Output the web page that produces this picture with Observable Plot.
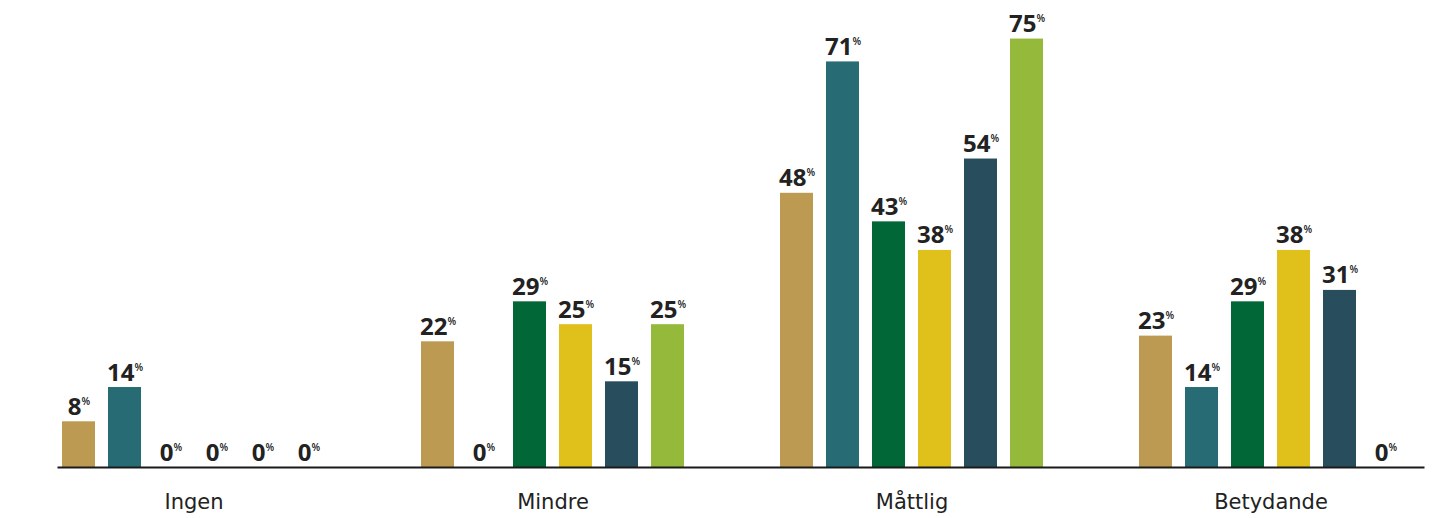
<!DOCTYPE html>
<html>
<head>
<meta charset="utf-8">
<script src="https://cdn.jsdelivr.net/npm/d3@7"></script>
<script src="https://cdn.jsdelivr.net/npm/@observablehq/plot@0.6"></script>
<style>
  html, body { margin: 0; padding: 0; background: #fff; }
  #chart svg { display: block; }
</style>
</head>
<body>
<div id="chart"></div>
<script>
const categories = ["Ingen", "Mindre", "Måttlig", "Betydande"];
const seriesNames = ["Serie 1", "Serie 2", "Serie 3", "Serie 4", "Serie 5", "Serie 6"];
const seriesColors = ["#bc9a52", "#276c74", "#026736", "#e0c01b", "#284e5e", "#95ba3b"];
const serie1 = [8, 22, 48, 23];
const serie2 = [14, 0, 71, 14];
const serie3 = [0, 29, 43, 29];
const serie4 = [0, 25, 38, 38];
const serie5 = [0, 15, 54, 31];
const serie6 = [0, 25, 75, 0];
const seriesValues = [serie1, serie2, serie3, serie4, serie5, serie6];

const data = [];
categories.forEach((cat, ci) => {
  seriesNames.forEach((s, si) => {
    data.push({cat, series: s, value: seriesValues[si][ci]});
  });
});

const chart = Plot.plot({
  width: 1435,
  height: 518,
  marginLeft: 47,
  marginRight: 17,
  marginTop: 10,
  marginBottom: 51,
  style: {fontFamily: "'Open Sans', sans-serif", color: "#222", background: "#fff"},
  fx: {domain: categories, paddingInner: 0.189, paddingOuter: 0, label: null},
  x: {domain: seriesNames, padding: 0.289, axis: null},
  y: {domain: [0, 80], axis: null},
  color: {domain: seriesNames, range: seriesColors},
  marks: [
    Plot.axisFx({anchor: "bottom", tickSize: 0, tickPadding: 27, fontSize: 21, fontFamily: "'DejaVu Sans', sans-serif", fill: "#222", label: null}),
    Plot.barY(data, {fx: "cat", x: "series", y: "value", fill: "series"}),
    Plot.text(data, {
      fx: "cat", x: "series", y: "value",
      text: d => d.value + "%",
      lineAnchor: "bottom", dy: -7,
      fontSize: 24, fontWeight: 700, fill: "#222",
      className: "vlabel"
    }),
    Plot.frame({anchor: "bottom", facet: "super", stroke: "#1a1a1a", strokeWidth: 2, insetLeft: 10, insetRight: -7})
  ]
});

d3.select(chart).selectAll("g.vlabel text").each(function() {
  const t = this.textContent;
  const num = t.replace("%", "");
  const sel = d3.select(this);
  sel.text(null);
  sel.append("tspan").text(num);
  sel.append("tspan").attr("font-size", 10).attr("font-weight", 600).attr("dy", -10).text("%");
});

document.getElementById("chart").appendChild(chart);
</script>
</body>
</html>
